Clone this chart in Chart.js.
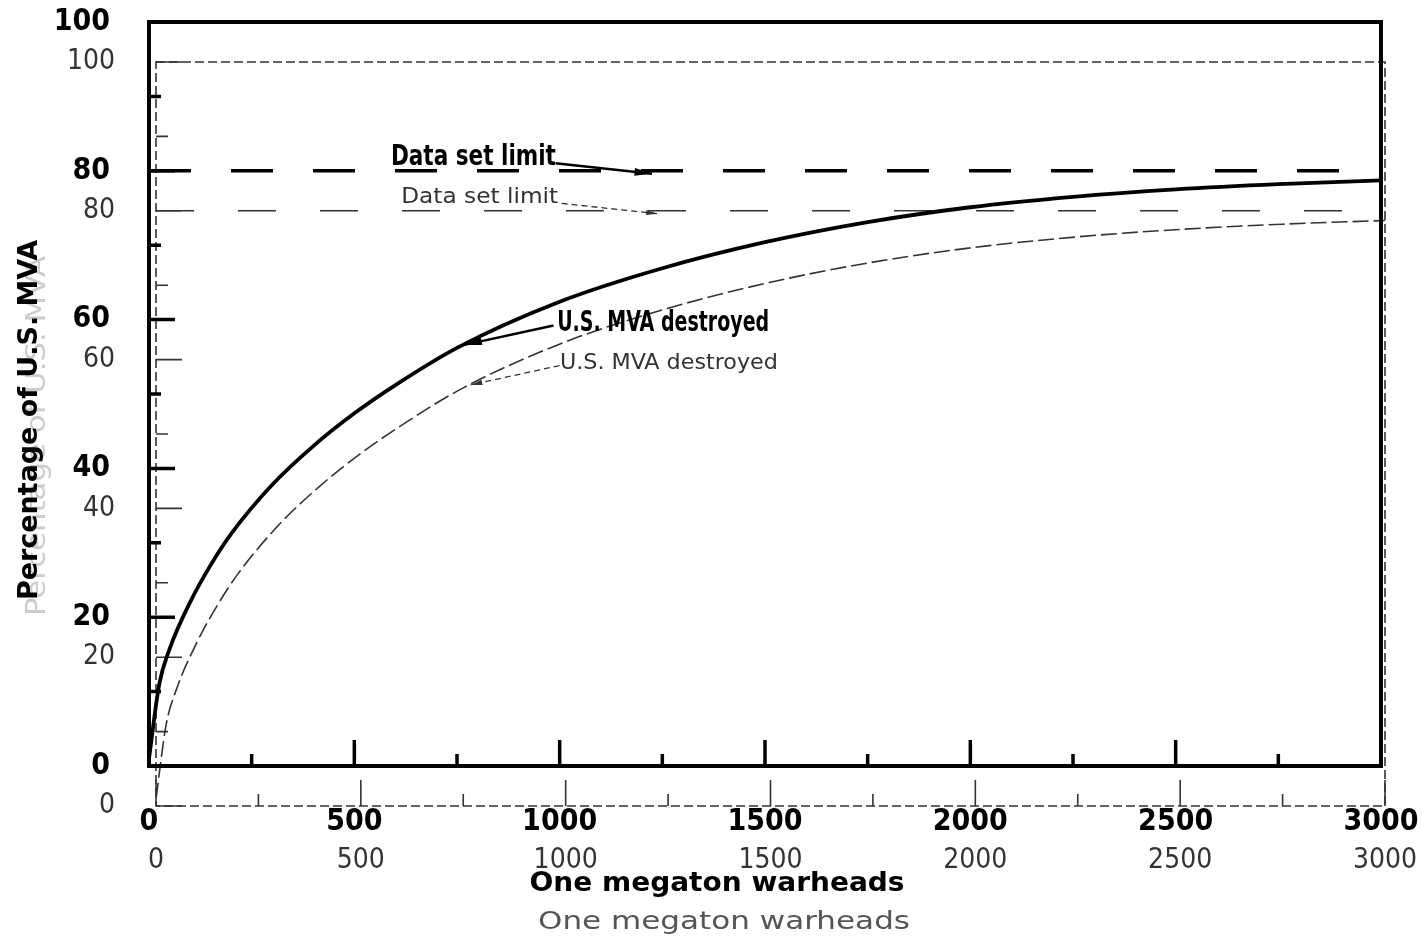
<!DOCTYPE html>
<html>
<head>
<meta charset="utf-8">
<script src="https://cdn.jsdelivr.net/npm/chart.js@4"></script>
<style>
  body { margin: 0; background: #fff; }
  #wrap { position: relative; width: 1422px; height: 937px; }
  canvas { position: absolute; left: 0; top: 0; }
</style>
</head>
<body>
<div id="wrap">
  <canvas id="ghost" width="1422" height="937"></canvas>
  <canvas id="main" width="1422" height="937"></canvas>
</div>
<script>
// Data
const curveX = [0, 25, 50, 100, 150, 200, 300, 400, 500, 600, 750, 1000, 1250, 1500, 1750, 2000, 2250, 2500, 2750, 3000];
const curveY = [1, 11, 15.7, 22, 27, 31.2, 37.8, 43, 47.4, 51.2, 56.2, 62.4, 66.9, 70.4, 73.1, 75.1, 76.5, 77.5, 78.2, 78.7];
const limitX = [0, 3000];
const limitY = [80, 80];

const xTickValues = [0, 500, 1000, 1500, 2000, 2500, 3000];
const xTickLabels = ['0', '500', '1000', '1500', '2000', '2500', '3000'];
const yTickValues = [0, 20, 40, 60, 80, 100];
const yTickLabels = ['0', '20', '40', '60', '80', '100'];
const xMinorTicks = [250, 750, 1250, 1750, 2250, 2750];
const yMinorTicks = [10, 30, 50, 70, 90];

const xTitle = 'One megaton warheads';
const yTitle = 'Percentage of U.S. MVA';
const limitLabel = 'Data set limit';
const curveLabel = 'U.S. MVA destroyed';

const narrow = "'Liberation Sans Narrow', 'DejaVu Sans Condensed', 'Liberation Sans', sans-serif";

// two copies: the sharp plot and the faint offset copy behind it
const mainStyle = {
    area: { left: 149, top: 22, right: 1381, bottom: 766 },
    ink: '#000',
    frameWidth: 4, frameDash: [],
    tickWidth: 3.5, majorLen: 26, minorLen: 12,
    curveWidth: 3.8, curveDash: [],
    limitWidth: 3.5, limitDash: [42, 40],
    tickFont: { family: narrow, size: 30, weight: 'bold' },
    padY: 39, padX: 38,
    textFont: 'bold 28px ' + narrow,
    limitText: { w: 165 }, curveText: { w: 212 },
    arrowWidth: 2.5, arrowDash: [], head: 18,
    xTitle: { x: 717, y: 884, w: 375, font: 'bold 26px "DejaVu Sans", sans-serif', color: '#000' },
    yTitle: { x: 30, y: 420, w: 360, font: 'bold 27px "DejaVu Sans Condensed", sans-serif', color: '#000' }
};
const ghostStyle = {
    area: { left: 156, top: 62, right: 1385, bottom: 806 },
    ink: '#333',
    frameWidth: 1.6, frameDash: [9, 4],
    tickWidth: 1.6, majorLen: 26, minorLen: 12,
    curveWidth: 1.6, curveDash: [16, 5],
    limitWidth: 1.6, limitDash: [38, 44],
    tickFont: { family: narrow, size: 28, weight: 'normal' },
    padY: 41, padX: 38,
    textFont: '22px ' + narrow,
    limitText: { w: 157 }, curveText: { w: 218 },
    arrowWidth: 1.3, arrowDash: [6, 4], head: 12,
    xTitle: { x: 724, y: 922, w: 372, font: '25px "DejaVu Sans", sans-serif', color: '#555' },
    yTitle: { x: 38, y: 436, w: 360, font: '26px "DejaVu Sans Condensed", sans-serif', color: '#ccc' }
};

function fitText(ctx, text, cx, cy, w, font, color, rot) {
    ctx.save();
    ctx.font = font;
    ctx.fillStyle = color;
    ctx.textAlign = 'center';
    ctx.textBaseline = 'middle';
    ctx.translate(cx, cy);
    if (rot) ctx.rotate(rot);
    ctx.scale(w / ctx.measureText(text).width, 1);
    ctx.fillText(text, 0, 0);
    ctx.restore();
}

function arrow(ctx, x1, y1, x2, y2, st) {
    ctx.save();
    ctx.strokeStyle = st.ink;
    ctx.fillStyle = st.ink;
    ctx.lineWidth = st.arrowWidth;
    ctx.setLineDash(st.arrowDash);
    ctx.beginPath();
    ctx.moveTo(x1, y1);
    ctx.lineTo(x2, y2);
    ctx.stroke();
    const a = Math.atan2(y2 - y1, x2 - x1);
    ctx.setLineDash([]);
    ctx.beginPath();
    ctx.moveTo(x2, y2);
    ctx.lineTo(x2 - st.head * Math.cos(a - 0.22), y2 - st.head * Math.sin(a - 0.22));
    ctx.lineTo(x2 - st.head * Math.cos(a + 0.22), y2 - st.head * Math.sin(a + 0.22));
    ctx.closePath();
    ctx.fill();
    ctx.restore();
}

function overlay(st) {
    return {
        id: 'overlay',
        afterDatasetsDraw(chart) {
            const { ctx, chartArea: a, scales: { x, y } } = chart;
            ctx.save();
            ctx.strokeStyle = st.ink;
            ctx.lineWidth = st.frameWidth;
            ctx.setLineDash(st.frameDash);
            ctx.strokeRect(a.left, a.top, a.right - a.left, a.bottom - a.top);

            // tick marks point into the plot
            ctx.setLineDash([]);
            ctx.lineWidth = st.tickWidth;
            ctx.beginPath();
            yTickValues.forEach(v => { const p = y.getPixelForValue(v); ctx.moveTo(a.left, p); ctx.lineTo(a.left + st.majorLen, p); });
            yMinorTicks.forEach(v => { const p = y.getPixelForValue(v); ctx.moveTo(a.left, p); ctx.lineTo(a.left + st.minorLen, p); });
            xTickValues.forEach(v => { const p = x.getPixelForValue(v); ctx.moveTo(p, a.bottom); ctx.lineTo(p, a.bottom - st.majorLen); });
            xMinorTicks.forEach(v => { const p = x.getPixelForValue(v); ctx.moveTo(p, a.bottom); ctx.lineTo(p, a.bottom - st.minorLen); });
            ctx.stroke();
            ctx.restore();

            // labels with arrows
            fitText(ctx, limitLabel, x.getPixelForValue(790), y.getPixelForValue(81.8), st.limitText.w, st.textFont, st.ink);
            arrow(ctx, x.getPixelForValue(990), y.getPixelForValue(81.0), x.getPixelForValue(1225), y.getPixelForValue(79.6), st);
            fitText(ctx, curveLabel, x.getPixelForValue(1252), y.getPixelForValue(59.5), st.curveText.w, st.textFont, st.ink);
            arrow(ctx, x.getPixelForValue(985), y.getPixelForValue(59.2), x.getPixelForValue(768), y.getPixelForValue(56.6), st);

            // axis titles
            fitText(ctx, xTitle, st.xTitle.x, st.xTitle.y, st.xTitle.w, st.xTitle.font, st.xTitle.color);
            fitText(ctx, yTitle, st.yTitle.x, st.yTitle.y, st.yTitle.w, st.yTitle.font, st.yTitle.color, -Math.PI / 2);
        }
    };
}

// label offset through an invisible tick mark, so ticks.padding does not push the plot area in
function hiddenTicks(len) {
    return { display: true, drawOnChartArea: false, drawTicks: true, tickLength: len, tickColor: 'rgba(0,0,0,0)' };
}

function makeChart(id, st) {
    const a = st.area;
    return new Chart(document.getElementById(id), {
        type: 'line',
        data: {
            datasets: [
                {
                    data: limitX.map((v, i) => ({ x: v, y: limitY[i] })),
                    borderColor: st.ink,
                    borderWidth: st.limitWidth,
                    borderDash: st.limitDash,
                    pointRadius: 0
                },
                {
                    data: curveX.map((v, i) => ({ x: v, y: curveY[i] })),
                    borderColor: st.ink,
                    borderWidth: st.curveWidth,
                    borderDash: st.curveDash,
                    cubicInterpolationMode: 'monotone',
                    pointRadius: 0
                }
            ]
        },
        options: {
            responsive: false,
            animation: false,
            layout: { padding: { left: 0, top: a.top, right: 1422 - a.right, bottom: 0 } },
            plugins: { legend: { display: false }, tooltip: { enabled: false } },
            scales: {
                x: {
                    type: 'linear',
                    min: 0,
                    max: 3000,
                    grid: hiddenTicks(st.padX),
                    border: { display: false },
                    afterBuildTicks: s => { s.ticks = xTickValues.map(v => ({ value: v })); },
                    afterFit: s => { s.height = 937 - a.bottom; },
                    ticks: {
                        autoSkip: false,
                        maxRotation: 0,
                        padding: 0,
                        color: st.ink,
                        font: st.tickFont,
                        callback: (v, i) => xTickLabels[i]
                    }
                },
                y: {
                    type: 'linear',
                    min: 0,
                    max: 100,
                    grid: hiddenTicks(st.padY),
                    border: { display: false },
                    afterBuildTicks: s => { s.ticks = yTickValues.map(v => ({ value: v })); },
                    afterFit: s => { s.width = a.left; },
                    ticks: {
                        padding: 0,
                        color: st.ink,
                        font: st.tickFont,
                        callback: (v, i) => yTickLabels[i]
                    }
                }
            }
        },
        plugins: [overlay(st)]
    });
}

makeChart('ghost', ghostStyle);
makeChart('main', mainStyle);
</script>
</body>
</html>
